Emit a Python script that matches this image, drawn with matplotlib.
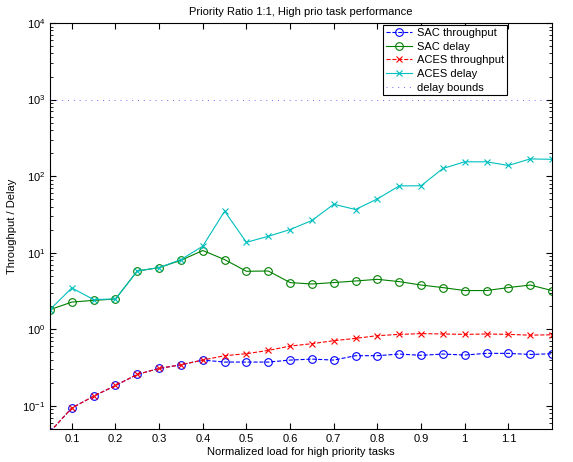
import numpy as np
import matplotlib
matplotlib.use("Agg")
import matplotlib.pyplot as plt

plt.rcParams["font.family"] = ["Liberation Sans", "DejaVu Sans"]
plt.rcParams["mathtext.fontset"] = "custom"
plt.rcParams["mathtext.rm"] = "Liberation Sans"
plt.rcParams["mathtext.it"] = "Liberation Sans:italic"

# normalized load
load = [0.05, 0.1, 0.15, 0.2, 0.25, 0.3, 0.35, 0.4, 0.45, 0.5, 0.55, 0.6,
        0.65, 0.7, 0.75, 0.8, 0.85, 0.9, 0.95, 1.0, 1.05, 1.1, 1.15, 1.2]

sac_thr = [0.046, 0.094, 0.134, 0.185, 0.258, 0.309, 0.345, 0.397, 0.374, 0.374,
           0.374, 0.397, 0.409, 0.397, 0.453, 0.453, 0.476, 0.458, 0.476, 0.462,
           0.486, 0.486, 0.47, 0.48]
sac_delay = [1.81, 2.27, 2.39, 2.49, 5.78, 6.4, 7.98, 10.7, 8.15, 5.73, 5.78, 4.08,
             3.91, 4.08, 4.28, 4.5, 4.2, 3.79, 3.51, 3.21, 3.21, 3.51, 3.79, 3.21]
aces_thr = [0.046, 0.094, 0.134, 0.185, 0.258, 0.309, 0.345, 0.397, 0.453, 0.481,
            0.531, 0.605, 0.65, 0.711, 0.763, 0.827, 0.86, 0.88, 0.87, 0.86,
            0.87, 0.86, 0.84, 0.85]
aces_delay = [1.81, 3.47, 2.45, 2.49, 5.78, 6.4, 8.15, 12.2, 34.9, 13.7, 16.4, 20.1,
              26.4, 43.0, 36.7, 50.5, 74.6, 75.0, 126, 154, 154, 138, 168, 166]
delay_bound = 1000

fig = plt.figure(figsize=(5.73, 4.62), dpi=100)
ax = fig.add_axes([50 / 573, 33 / 462, 502 / 573, 406 / 462])

ax.semilogy(load, sac_thr, "--", color="b", marker="o", mfc="none", ms=5.5,
            lw=0.8, mew=0.8, label="SAC throughput")
ax.semilogy(load, sac_delay, "-", color="g", marker="o", mfc="none", ms=5.5,
            lw=0.8, mew=0.8, label="SAC delay")
ax.semilogy(load, aces_thr, "--", color="r", marker="x", ms=4,
            lw=0.8, mew=0.8, label="ACES throughput")
ax.semilogy(load, aces_delay, "-", color="c", marker="x", ms=4,
            lw=0.8, mew=0.8, label="ACES delay")
ax.axhline(delay_bound, color="#6a6aff", ls=(0, (1, 5)), lw=0.7,
           label="delay bounds")

ax.set_xlim(0.05, 1.2)
ax.set_ylim(0.05, 1e4)
ax.set_xticks([0.1, 0.2, 0.3, 0.4, 0.5, 0.6, 0.7, 0.8, 0.9, 1.0, 1.1])
ax.set_xticklabels(["0.1", "0.2", "0.3", "0.4", "0.5", "0.6", "0.7", "0.8",
                    "0.9", "1", "1.1"])
ax.tick_params(which="both", direction="in", top=True, right=True, labelsize=8)
ax.tick_params(which="major", length=4)
ax.tick_params(which="minor", length=2)

ax.set_title("Priority Ratio 1:1, High prio task performance", fontsize=8)
ax.set_xlabel("Normalized load for high priority tasks", fontsize=8, labelpad=2)
ax.set_ylabel("Throughput / Delay", fontsize=8)

leg = ax.legend(loc="upper right", bbox_to_anchor=(0.915, 1.0), borderaxespad=0.2,
                fontsize=8, fancybox=False, framealpha=1, handlelength=2.3,
                labelspacing=0.33, handletextpad=0.5, borderpad=0.25)
leg.get_frame().set_edgecolor("black")
leg.get_frame().set_linewidth(0.8)

fig.savefig("out.png", dpi=100)
